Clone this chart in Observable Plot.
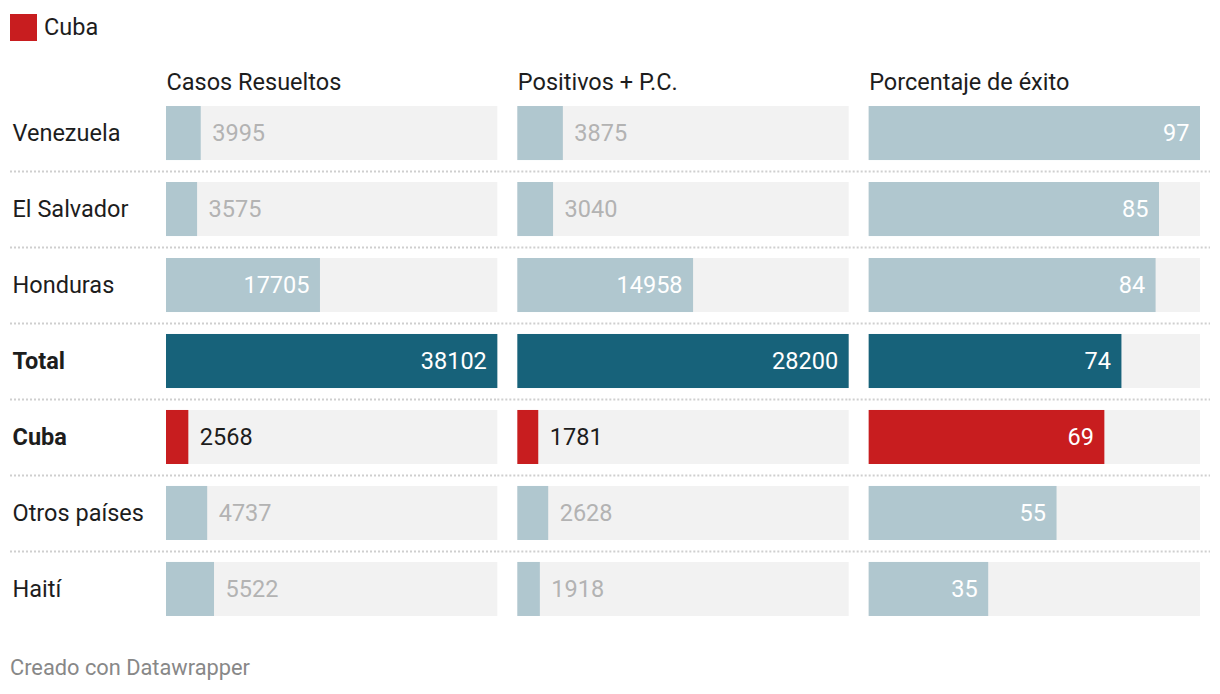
<!DOCTYPE html>
<html>
<head>
<meta charset="utf-8">
<script src="https://cdn.jsdelivr.net/npm/d3@7"></script>
<script src="https://cdn.jsdelivr.net/npm/@observablehq/plot@0.6"></script>
<style>
  html, body { margin: 0; padding: 0; background: #fff; }
  body { font-family: Roboto, "Noto Sans", sans-serif; color: #1d1d1d; width: 1220px; height: 694px; position: relative; overflow: hidden; }
  #legend { position: absolute; left: 10px; top: 14px; display: flex; align-items: center; font-size: 23.5px; line-height: 27px; }
  #legend .sw { width: 27px; height: 27px; background: #c81d1f; margin-right: 7px; }
  #chart { position: absolute; left: 0; top: 56px; }
  #footer { position: absolute; left: 10px; top: 654px; font-size: 21.8px; color: #888; line-height: 28px; }
</style>
</head>
<body>
<div id="legend"><div class="sw"></div><span>Cuba</span></div>
<div id="chart"></div>
<div id="footer">Creado con Datawrapper</div>
<script>
const countries = ["Venezuela", "El Salvador", "Honduras", "Total", "Cuba", "Otros países", "Haití"];
const columns = ["Casos Resueltos", "Positivos + P.C.", "Porcentaje de éxito"];
const casosResueltos = [3995, 3575, 17705, 38102, 2568, 4737, 5522];
const positivosPC = [3875, 3040, 14958, 28200, 1781, 2628, 1918];
const porcentajeExito = [97, 85, 84, 74, 69, 55, 35];
const boldRows = ["Total", "Cuba"];

const series = [casosResueltos, positivosPC, porcentajeExito];
const maxima = series.map(s => d3.max(s));

const rows = countries.flatMap((country, i) =>
  columns.map((column, j) => ({
    country, column,
    value: series[j][i],
    norm: series[j][i] / maxima[j]
  }))
);

const colorOf = c => c === "Total" ? "#17627a" : c === "Cuba" ? "#c81d1f" : "#b0c7cf";
const inside = d => d.norm > 0.2;
const isBold = c => boldRows.includes(c);
const notLast = d => d.country !== countries[countries.length - 1];
const firstCol = rows.filter(d => d.column === columns[0]);

const fs = 23.5;
const sepStyle = { stroke: "#cfcfcf", strokeWidth: 2, strokeDasharray: "2,2", dy: 38 };

const plot = Plot.plot({
  width: 1220,
  height: 581,
  marginLeft: 166,
  marginRight: 20,
  marginTop: 39,
  marginBottom: 10,
  style: { fontFamily: "Roboto, 'Noto Sans', sans-serif", fontSize: fs + "px", background: "transparent", overflow: "visible" },
  fx: { domain: columns, paddingInner: 0.0569, paddingOuter: 0, round: false, axis: null },
  x: { domain: [0, 1], axis: null },
  y: { domain: countries, paddingInner: 0.289, paddingOuter: 0.145, round: false, axis: null },
  marks: [
    Plot.ruleY(rows.filter(d => d.column === columns[0] && notLast(d)), {
      fx: "column", y: "country", insetLeft: -156, ...sepStyle
    }),
    Plot.ruleY(rows.filter(d => d.column === columns[1] && notLast(d)), {
      fx: "column", y: "country", insetLeft: -20, ...sepStyle
    }),
    Plot.ruleY(rows.filter(d => d.column === columns[2] && notLast(d)), {
      fx: "column", y: "country", insetLeft: -20, insetRight: -10, ...sepStyle
    }),
    Plot.barX(rows, { fx: "column", y: "country", x1: 0, x2: 1, fill: "#f2f2f2" }),
    Plot.barX(rows, { fx: "column", y: "country", x1: 0, x2: "norm", fill: d => colorOf(d.country) }),
    Plot.text(rows.filter(inside), {
      fx: "column", y: "country", x: "norm", text: d => String(d.value),
      textAnchor: "end", dx: -11, fill: "#fff", fontSize: fs
    }),
    Plot.text(rows.filter(d => !inside(d)), {
      fx: "column", y: "country", x: "norm", text: d => String(d.value),
      textAnchor: "start", dx: 11, fill: d => d.country === "Cuba" ? "#1d1d1d" : "#b3b3b3", fontSize: fs
    }),
    Plot.text(firstCol.filter(d => !isBold(d.country)), {
      fx: "column", y: "country", x: 0, text: "country",
      textAnchor: "start", dx: -154, fill: "#1d1d1d", fontSize: fs
    }),
    Plot.text(firstCol.filter(d => isBold(d.country)), {
      fx: "column", y: "country", x: 0, text: "country",
      textAnchor: "start", dx: -154, fill: "#1d1d1d", fontSize: fs, fontWeight: "bold"
    }),
    Plot.text(columns, {
      fx: d => d, text: d => d, frameAnchor: "top-left", lineAnchor: "middle",
      dy: -13, fill: "#1d1d1d", fontSize: fs
    })
  ]
});
document.getElementById("chart").appendChild(plot);
</script>
</body>
</html>
